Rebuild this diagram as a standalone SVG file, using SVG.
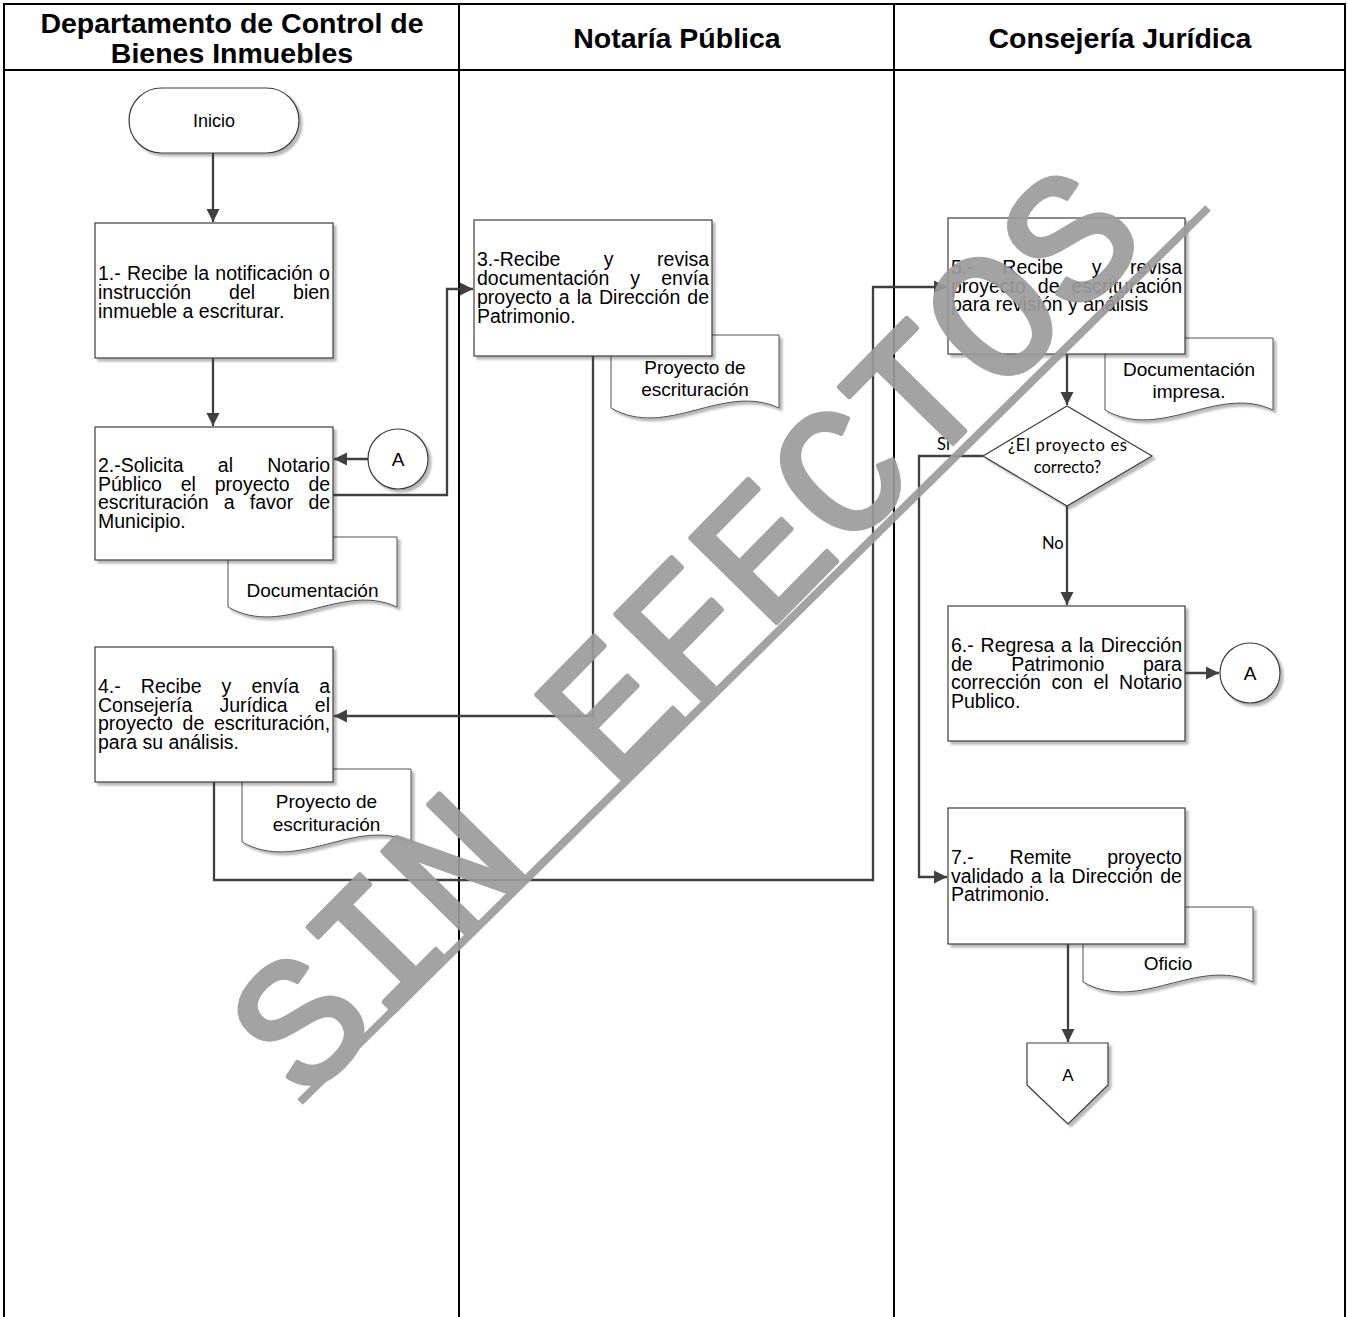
<svg xmlns="http://www.w3.org/2000/svg" width="1348" height="1317" viewBox="0 0 1348 1317">
  <defs>
    <style>
      .lane{stroke:#000;stroke-width:2;fill:none}
      .hd{font-family:"Liberation Sans",Arial,sans-serif;font-weight:bold;font-size:28.5px;fill:#000;text-anchor:middle}
      .box{fill:#fff;stroke:#3c3c3c;stroke-width:1.2;filter:url(#sh)}
      .doc{fill:#fff;stroke:#505050;stroke-width:1;filter:url(#sh)}
      .t{font-family:"Liberation Sans",Arial,sans-serif;font-size:19.5px;fill:#000}
      .c{text-anchor:middle}
      .dt{font-family:"Liberation Sans",Arial,sans-serif;font-size:19px;fill:#000;text-anchor:middle}
      .cal{font-family:Lato,"Open Sans",sans-serif;font-size:16.5px;fill:#000}
      .wire{fill:none;stroke:#404040;stroke-width:2.3}
      .arr{marker-end:url(#ah)}
      .wm{font-family:"Liberation Mono","Courier New",monospace;font-size:183px;fill:#9c9c9c;stroke:#9c9c9c;stroke-width:5;stroke-linejoin:round}
    </style>
    <filter id="sh" x="-10%" y="-10%" width="130%" height="130%">
      <feDropShadow dx="3" dy="3" stdDeviation="1.2" flood-color="#000" flood-opacity="0.28"/>
    </filter>
    <marker id="ah" markerUnits="userSpaceOnUse" markerWidth="14" markerHeight="14" refX="13" refY="7" orient="auto" viewBox="0 0 14 14">
      <path d="M0,0.5 L13,7 L0,13.5 z" fill="#404040"/>
    </marker>
  </defs>

  <rect width="1348" height="1317" fill="#fff"/>

  <!-- swimlane frame -->
  <g id="lanes">
    <path class="lane" d="M4,1317 V4 H1345 V1317"/>
    <path class="lane" d="M4,70 H1345"/>
    <path class="lane" d="M459,4 V1317"/>
    <path class="lane" d="M894,4 V1317"/>
    <text class="hd" x="232" y="33">Departamento de Control de</text>
    <text class="hd" x="232" y="63">Bienes Inmuebles</text>
    <text class="hd" x="677" y="48">Notaría Pública</text>
    <text class="hd" x="1120" y="48">Consejería Jurídica</text>
  </g>

  <!-- documents (behind their process boxes) -->
  <g id="doc-documentacion">
    <path class="doc" d="M228,537 H397 V607 C340.7,581 284.3,639 228,607 Z"/>
    <text class="dt" x="312.5" y="597">Documentación</text>
  </g>
  <g id="doc-proyecto-notaria">
    <path class="doc" d="M611,335 H779 V408 C723,382 667,440 611,408 Z"/>
    <text class="dt" x="695" y="374">Proyecto de</text>
    <text class="dt" x="695" y="396">escrituración</text>
  </g>
  <g id="doc-proyecto-bienes">
    <path class="doc" d="M242,769 H411 V842 C354.7,816 298.3,874 242,842 Z"/>
    <text class="dt" x="326.5" y="808">Proyecto de</text>
    <text class="dt" x="326.5" y="831">escrituración</text>
  </g>
  <g id="doc-impresa">
    <path class="doc" d="M1105,338 H1273 V410 C1217,384 1161,442 1105,410 Z"/>
    <text class="dt" x="1189" y="376">Documentación</text>
    <text class="dt" x="1189" y="398">impresa.</text>
  </g>
  <g id="doc-oficio">
    <path class="doc" d="M1083,907 H1253 V982 C1196.3,956 1139.7,1014 1083,982 Z"/>
    <text class="dt" x="1168" y="970">Oficio</text>
  </g>

  <!-- process nodes -->
  <g id="inicio">
    <rect class="box" x="129" y="88" width="170" height="65" rx="32.5"/>
    <text class="t c" x="214" y="127" style="font-size:18px">Inicio</text>
  </g>

  <g id="paso1">
    <rect class="box" x="95" y="223" width="238" height="135"/>
    <text class="t" x="98" y="280.3" style="word-spacing:0.8px">1.- Recibe la notificación o</text>
    <text class="t" x="98" y="299" style="word-spacing:32.5px">instrucción del bien</text>
    <text class="t" x="98" y="317.7">inmueble a escriturar.</text>
  </g>

  <g id="paso2">
    <rect class="box" x="95" y="427" width="238" height="133"/>
    <text class="t" x="98" y="472" style="word-spacing:28.8px">2.-Solicita al Notario</text>
    <text class="t" x="98" y="490.6" style="word-spacing:13.4px">Público el proyecto de</text>
    <text class="t" x="98" y="509.3" style="word-spacing:9.8px">escrituración a favor de</text>
    <text class="t" x="98" y="528">Municipio.</text>
  </g>

  <g id="conector-a-entrada">
    <circle class="box" cx="398" cy="459" r="30"/>
    <text class="t c" x="398" y="465.5" style="font-size:19px">A</text>
  </g>

  <g id="paso3">
    <rect class="box" x="474" y="220" width="238" height="136"/>
    <text class="t" x="477" y="266.4" style="word-spacing:38px">3.-Recibe y revisa</text>
    <text class="t" x="477" y="285.1" style="word-spacing:15.7px">documentación y envía</text>
    <text class="t" x="477" y="303.8" style="word-spacing:1.65px">proyecto a la Dirección de</text>
    <text class="t" x="477" y="322.5">Patrimonio.</text>
  </g>

  <g id="paso4">
    <rect class="box" x="95" y="647" width="238" height="135"/>
    <text class="t" x="98" y="693" style="word-spacing:14.65px">4.- Recibe y envía a</text>
    <text class="t" x="98" y="711.6" style="word-spacing:21.7px">Consejería Jurídica el</text>
    <text class="t" x="98" y="730.3" style="word-spacing:4.4px">proyecto de escrituración,</text>
    <text class="t" x="98" y="749">para su análisis.</text>
  </g>

  <g id="paso5">
    <rect class="box" x="948" y="218" width="237" height="136"/>
    <text class="t" x="951" y="273.8" style="word-spacing:23.2px">5.- Recibe y revisa</text>
    <text class="t" x="951" y="292.5" style="word-spacing:6.6px">proyecto de escrituración</text>
    <text class="t" x="951" y="311.2">para revisión y análisis</text>
  </g>

  <g id="decision">
    <polygon class="box" points="983,456 1067,406 1152,456 1067,506"/>
    <text class="cal" x="1067.5" y="451" text-anchor="middle" textLength="119" lengthAdjust="spacing">¿El proyecto es</text>
    <text class="cal" x="1067.5" y="473" text-anchor="middle">correcto?</text>
  </g>

  <g id="paso6">
    <rect class="box" x="948" y="606" width="237" height="135"/>
    <text class="t" x="951" y="652" style="word-spacing:1.4px">6.- Regresa a la Dirección</text>
    <text class="t" x="951" y="670.6" style="word-spacing:33.1px">de Patrimonio para</text>
    <text class="t" x="951" y="689.3" style="word-spacing:5.1px">corrección con el Notario</text>
    <text class="t" x="951" y="708">Publico.</text>
  </g>

  <g id="conector-a-salida">
    <circle class="box" cx="1250" cy="673" r="30"/>
    <text class="t c" x="1250" y="679.5" style="font-size:19px">A</text>
  </g>

  <g id="paso7">
    <rect class="box" x="948" y="808" width="237" height="136"/>
    <text class="t" x="951" y="863.8" style="word-spacing:30.4px">7.- Remite proyecto</text>
    <text class="t" x="951" y="882.5" style="word-spacing:1.9px">validado a la Dirección de</text>
    <text class="t" x="951" y="901.2">Patrimonio.</text>
  </g>

  <g id="fuera-de-pagina">
    <polygon class="box" points="1027,1043 1108,1043 1108,1085 1068,1124 1027,1085"/>
    <text class="t c" x="1068" y="1081" style="font-size:17px">A</text>
  </g>

  <!-- connectors -->
  <g id="connectors">
    <path class="wire arr" d="M213,153 V222"/>
    <path class="wire arr" d="M213,358 V426"/>
    <path class="wire arr" d="M368,459 H334"/>
    <path class="wire arr" d="M333,495 H447 V289 H473"/>
    <path class="wire arr" d="M593,356 V716 H334"/>
    <path class="wire arr" d="M214,782 V880 H873 V287 H947"/>
    <path class="wire arr" d="M1067,354 V405"/>
    <path class="wire arr" d="M1067,506 V605"/>
    <path class="wire arr" d="M983,456 H919 V877 H947"/>
    <path class="wire arr" d="M1185,673 H1219"/>
    <path class="wire arr" d="M1068,944 V1042"/>
    <text class="cal" x="937" y="450">Si</text>
    <text class="cal" x="1042" y="549">No</text>
  </g>

  <!-- stamp across the sheet -->
  <g id="sello" opacity="0.92">
    <text class="wm" text-anchor="middle" transform="translate(728,672) rotate(-45.5)">SIN EFECTOS</text>
    <line x1="300" y1="1102" x2="1208" y2="208" stroke="#9c9c9c" stroke-width="8"/>
  </g>
</svg>
